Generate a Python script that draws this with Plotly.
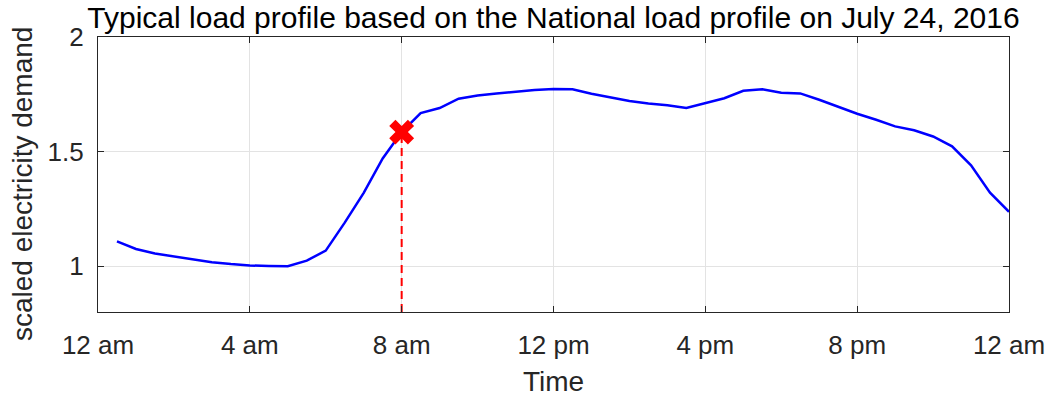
import plotly.graph_objects as go

hours = [0.5, 1.0, 1.5, 2.0, 2.5, 3.0, 3.5, 4.0, 4.5, 5.0, 5.5, 6.0,
         6.5, 7.0, 7.5, 8.0, 8.5, 9.0, 9.5, 10.0, 10.5, 11.0, 11.5, 12.0,
         12.5, 13.0, 13.5, 14.0, 14.5, 15.0, 15.5, 16.0, 16.5, 17.0, 17.5, 18.0,
         18.5, 19.0, 19.5, 20.0, 20.5, 21.0, 21.5, 22.0, 22.5, 23.0, 23.5, 24.0]
demand = [1.108, 1.075, 1.055, 1.042, 1.029, 1.017, 1.009, 1.003, 1.001, 1.000, 1.024, 1.068,
          1.19, 1.32, 1.47, 1.585, 1.668, 1.690, 1.731, 1.745, 1.753, 1.762, 1.769, 1.773,
          1.772, 1.752, 1.735, 1.721, 1.710, 1.702, 1.690, 1.711, 1.733, 1.765, 1.772, 1.757,
          1.754, 1.726, 1.696, 1.665, 1.639, 1.610, 1.593, 1.566, 1.523, 1.440, 1.321, 1.237]

marker_hour = 8.0
marker_value = 1.585
y_floor = 0.8

x_tickvals = [0, 4, 8, 12, 16, 20, 24]
x_ticktext = ["12 am", "4 am", "8 am", "12 pm", "4 pm", "8 pm", "12 am"]
y_tickvals = [1, 1.5, 2]
y_ticktext = ["1", "1.5", "2"]

FONT = "Liberation Sans, Arial, Helvetica, sans-serif"
AX = "#262626"

fig = go.Figure()
fig.add_trace(go.Scatter(x=hours, y=demand, mode="lines",
                         line=dict(color="#0000ff", width=2.5), showlegend=False))
fig.add_trace(go.Scatter(x=[marker_hour, marker_hour], y=[y_floor, marker_value], mode="lines",
                         line=dict(color="#ff0000", width=2, dash="8px,5px"), showlegend=False))
fig.add_trace(go.Scatter(x=[marker_hour], y=[marker_value], mode="markers",
                         marker=dict(symbol="x", size=22, color="#ff0000",
                                     line=dict(width=0)), showlegend=False))

fig.update_layout(
    width=1054, height=402,
    margin=dict(l=98, r=45, t=37, b=90),
    paper_bgcolor="white", plot_bgcolor="white",
    font=dict(family=FONT, color=AX, size=26),
    title=dict(text="Typical load profile based on the National load profile on July 24, 2016",
               x=0.5, xref="paper", xanchor="center",
               y=1 - 17 / 402, yref="container", yanchor="middle",
               font=dict(family=FONT, size=30, color="#000000")),
    showlegend=False,
)
fig.update_xaxes(range=[0, 24], tickvals=x_tickvals, ticktext=x_ticktext,
                 ticks="inside", ticklen=6, tickcolor=AX, tickwidth=1,
                 showline=True, linecolor=AX, linewidth=1.3, mirror="ticks",
                 showgrid=True, gridcolor="#e3e3e3", gridwidth=1, zeroline=False,
                 tickfont=dict(size=26, color=AX), ticklabelstandoff=10,
                 automargin=False)
fig.update_yaxes(range=[y_floor, 2], tickvals=y_tickvals, ticktext=y_ticktext,
                 ticks="inside", ticklen=6, tickcolor=AX, tickwidth=1,
                 showline=True, linecolor=AX, linewidth=1.3, mirror="ticks",
                 showgrid=True, gridcolor="#e3e3e3", gridwidth=1, zeroline=False,
                 tickfont=dict(size=26, color=AX), ticklabelstandoff=8,
                 automargin=False)

fig.add_annotation(text="Time", xref="paper", yref="paper",
                   x=0.5, y=(402 - 382 - 90) / (402 - 37 - 90),
                   xanchor="center", yanchor="middle", showarrow=False,
                   font=dict(family=FONT, size=28, color=AX))
fig.add_annotation(text="scaled electricity demand", xref="paper", yref="paper",
                   x=(22 - 98) / (1054 - 98 - 45), y=(402 - 90 - 184) / (402 - 37 - 90),
                   textangle=-90,
                   xanchor="center", yanchor="middle", showarrow=False,
                   font=dict(family=FONT, size=28, color=AX))

fig.write_html("out.html")
